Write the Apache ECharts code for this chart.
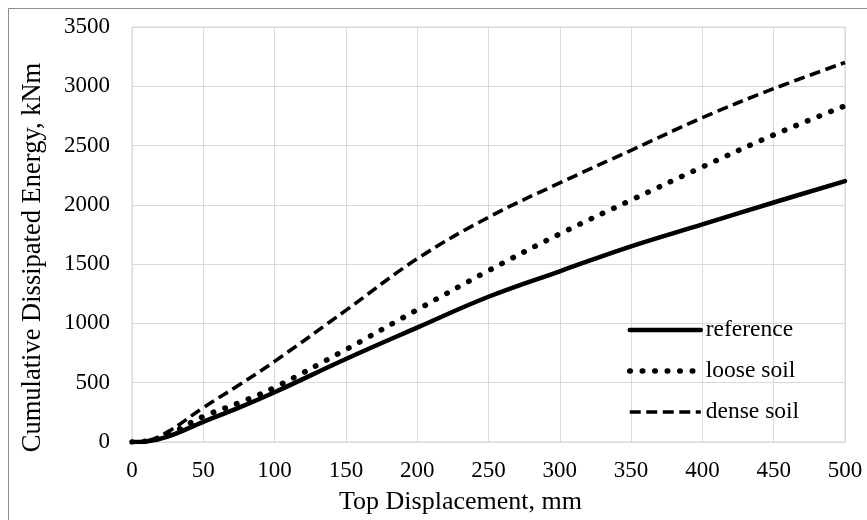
<!DOCTYPE html>
<html>
<head>
<meta charset="utf-8">
<script src="https://cdn.jsdelivr.net/npm/echarts@6/dist/echarts.min.js"></script>
<style>
html,body{margin:0;padding:0;background:#fff;}
#chart{width:867px;height:520px;}
</style>
</head>
<body>
<div id="chart"></div>
<script>
const displacement = [0, 10, 25, 50, 75, 100, 150, 200, 250, 300, 350, 400, 450, 500];
const referenceEnergy = [0, 5, 45, 170, 290, 420, 700, 965, 1225, 1440, 1650, 1835, 2020, 2200];
const looseSoilEnergy = [0, 7, 60, 215, 330, 460, 780, 1115, 1445, 1755, 2040, 2320, 2590, 2835];
const denseSoilEnergy = [0, 8, 85, 290, 480, 680, 1110, 1545, 1895, 2185, 2460, 2735, 2980, 3200];
const seriesNames = ['reference', 'loose soil', 'dense soil'];
const xTitle = 'Top Displacement, mm';
const yTitle = 'Cumulative Dissipated Energy, kNm';

const pairs = (ys) => displacement.map((x, i) => [x, ys[i]]);
const font = 'Liberation Serif';
const styles = [
  {color: '#000', width: 4.5, type: 'solid', cap: 'round'},
  {color: '#000', width: 5.5, type: [0.5, 12], cap: 'round'},
  {color: '#000', width: 3.6, type: [11, 5.5], cap: 'butt'}
];
const chart = echarts.init(document.getElementById('chart'), null, {renderer: 'canvas'});
chart.setOption({
  animation: false,
  backgroundColor: '#fff',
  grid: {left: 132, right: 22, top: 27, bottom: 77, containLabel: false,
    show: true, borderColor: '#d9d9d9', borderWidth: 1},
  graphic: [{
    type: 'rect', shape: {x: 8.5, y: 8.5, width: 900, height: 600},
    style: {fill: 'none', stroke: '#8c8c8c', lineWidth: 1}, silent: true
  }],
  legend: {
    orient: 'vertical', left: 627, top: 318, padding: 0,
    itemWidth: 71, itemHeight: 20, itemGap: 17,
    textStyle: {fontFamily: font, fontSize: 23.5, color: '#000'},
    data: seriesNames.map((n, i) => ({
      name: n,
      itemStyle: {opacity: 0, color: 'transparent', borderWidth: 0},
      lineStyle: Object.assign({opacity: 1}, styles[i])
    }))
  },
  xAxis: {
    type: 'value', min: 0, max: 500, interval: 50,
    name: xTitle, nameLocation: 'middle', nameGap: 47,
    nameTextStyle: {fontFamily: font, fontSize: 26, color: '#000', padding: [0, 56, 0, 0]},
    axisLine: {show: true, lineStyle: {color: '#d9d9d9', width: 1}},
    axisTick: {show: false},
    axisLabel: {fontFamily: font, fontSize: 23, color: '#000', margin: 17, formatter: (v) => String(v)},
    splitLine: {show: true, lineStyle: {color: '#d9d9d9', width: 1}}
  },
  yAxis: {
    type: 'value', min: 0, max: 3500, interval: 500,
    name: yTitle, nameLocation: 'middle', nameGap: 85, nameRotate: 90,
    nameTextStyle: {fontFamily: font, fontSize: 26.5, color: '#000', padding: [0, 46, 0, 0]},
    axisLine: {show: true, lineStyle: {color: '#d9d9d9', width: 1}},
    axisTick: {show: false},
    axisLabel: {fontFamily: font, fontSize: 23, color: '#000', margin: 22, formatter: (v) => String(v)},
    splitLine: {show: true, lineStyle: {color: '#d9d9d9', width: 1}}
  },
  series: [
    {name: seriesNames[0], type: 'line', data: pairs(referenceEnergy), smooth: 0.4,
     symbol: 'none', lineStyle: styles[0], itemStyle: {color: '#000'}},
    {name: seriesNames[1], type: 'line', data: pairs(looseSoilEnergy), smooth: 0.4,
     symbol: 'none', lineStyle: styles[1], itemStyle: {color: '#000'}},
    {name: seriesNames[2], type: 'line', data: pairs(denseSoilEnergy), smooth: 0.4,
     symbol: 'none', lineStyle: styles[2], itemStyle: {color: '#000'}}
  ]
});
</script>
</body>
</html>
